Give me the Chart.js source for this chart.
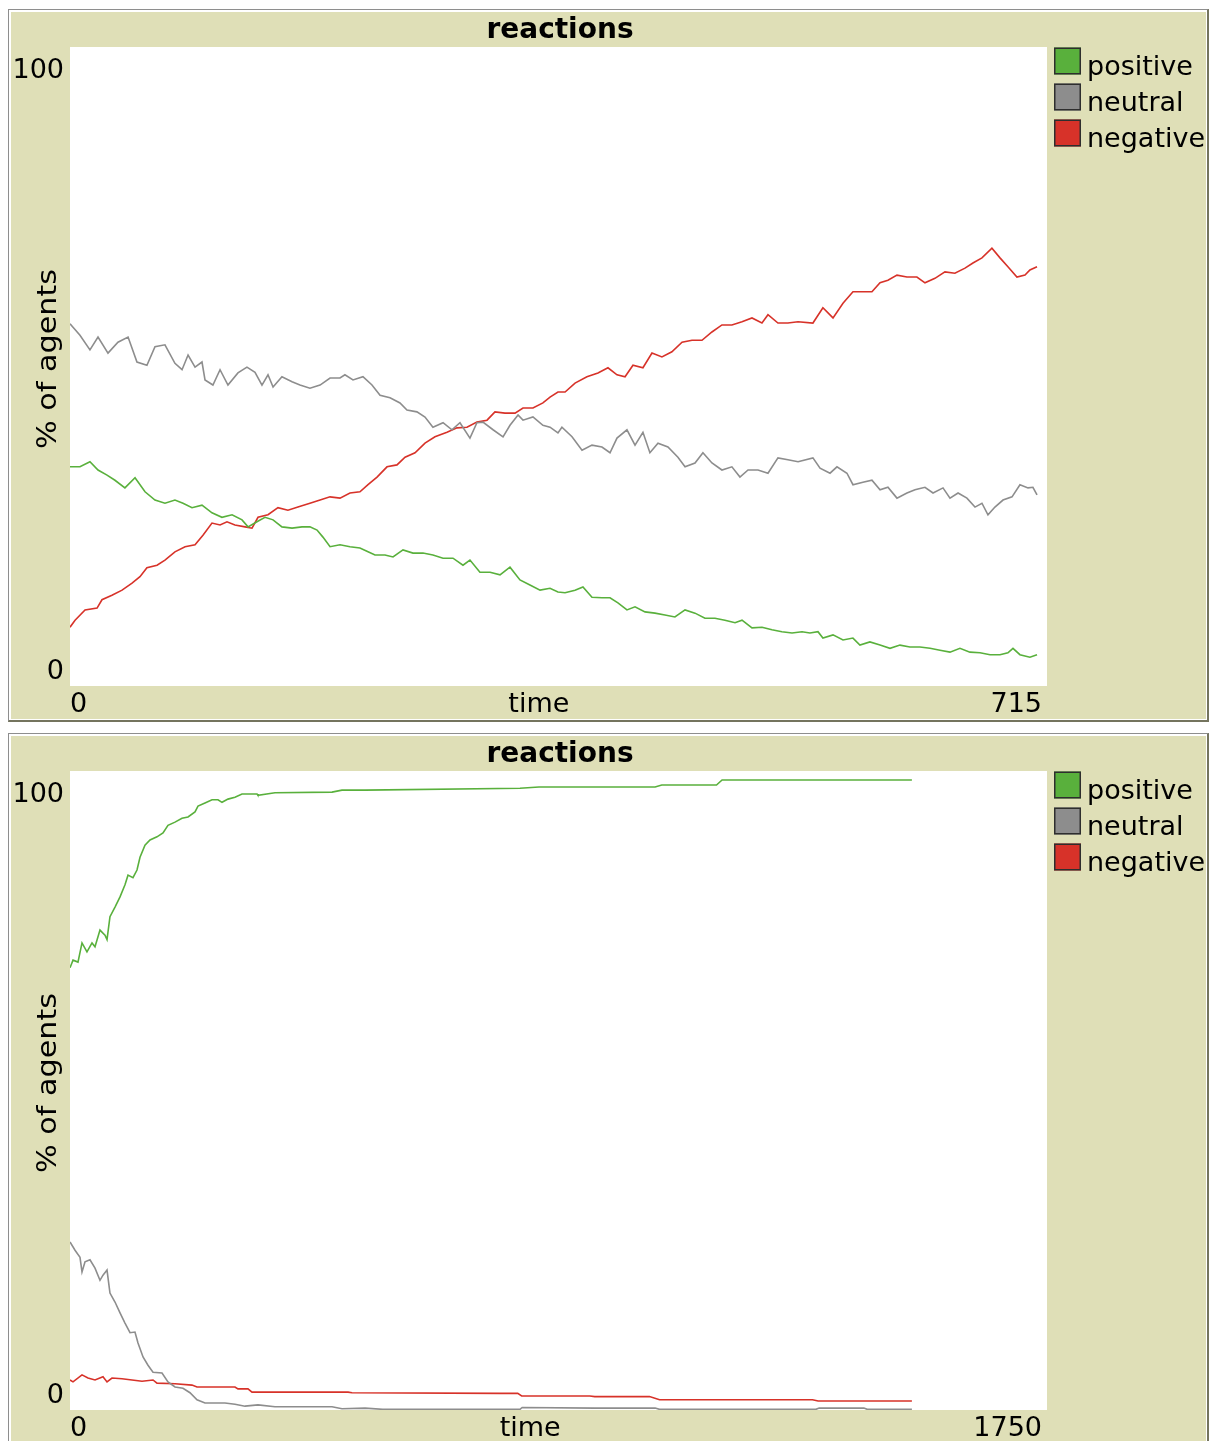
<!DOCTYPE html>
<html>
<head>
<meta charset="utf-8">
<script src="https://cdn.jsdelivr.net/npm/chart.js@4.4.1/dist/chart.umd.min.js"></script>
<style>
  html, body { margin:0; padding:0; background:#fff; width:1217px; height:1441px; overflow:hidden; }
  .frame { position:absolute; left:8px; width:1198px; height:710px; background:#fff;
           border-left:1px solid #8e8e8e; border-top:1px solid #8e8e8e;
           border-right:2px solid #74745e; border-bottom:2px solid #74745e; }
  .frame canvas { position:absolute; left:2px; top:2px; background:rgb(223,223,183); }
</style>
</head>
<body>
<div class="frame" style="top:9px"><canvas id="c1" width="1195" height="707"></canvas></div>
<div class="frame" style="top:733px"><canvas id="c2" width="1195" height="707"></canvas></div>
<script>
// ---------- shared labels ----------
const chartTitle = "reactions";
const xAxisTitle = "time";
const yAxisTitle = "% of agents";
const seriesNames = ["positive", "neutral", "negative"];
const seriesColors = ["rgb(89,176,60)", "rgb(141,141,141)", "rgb(215,50,41)"];
const yTicks = ["0", "100"];

// ---------- chart 1 (time 0..715) ----------
const xTicks1 = ["0", "715"];
const pos1T = [0,7.3,14.6,20.5,27.1,32.9,40.2,47.6,54.9,62.2,69.5,76.8,82.7,89.3,96.6,103.9,111.2,118.6,125.9,130.3,136.8,142.7,148.6,155.1,162.5,169.8,175.6,180.8,185.1,190.3,197.6,204.9,212.2,218.1,223.2,230.5,236.4,243.7,251.0,258.3,265.6,273.0,280.3,287.6,292.7,300.0,307.4,314.7,322.0,329.3,336.6,344.0,351.3,357.1,362.3,369.6,375.4,382.0,389.3,395.2,401.0,407.6,413.5,420.8,428.1,435.4,442.7,450.1,457.4,464.7,472.0,479.3,486.7,491.8,499.1,506.4,513.7,521.0,528.4,535.7,541.5,547.4,551.0,558.4,565.7,573.0,578.1,585.4,592.8,600.1,607.4,614.7,622.0,629.4,636.7,644.0,651.3,658.6,666.0,673.3,680.6,686.4,690.1,695.2,702.5,707.7];
const pos1V = [34.3,34.3,35.1,33.8,33.0,32.2,31.0,32.6,30.4,29.1,28.6,29.1,28.6,27.9,28.3,27.1,26.4,26.8,26.0,24.9,25.7,26.4,26.0,24.9,24.7,24.9,24.9,24.4,23.3,21.8,22.1,21.8,21.6,21.0,20.5,20.5,20.2,21.3,20.8,20.8,20.5,20.0,20.0,18.9,19.7,17.8,17.8,17.4,18.6,16.6,15.8,15.0,15.3,14.7,14.6,15.0,15.5,13.9,13.8,13.8,13.0,11.9,12.4,11.6,11.4,11.1,10.8,11.9,11.4,10.6,10.6,10.3,9.9,10.3,9.1,9.2,8.8,8.5,8.3,8.5,8.3,8.5,7.5,8.0,7.2,7.5,6.4,6.9,6.4,5.9,6.4,6.1,6.1,5.9,5.6,5.3,5.9,5.3,5.2,4.9,4.9,5.2,5.9,4.9,4.5,4.9];
const neu1T = [0,7.3,14.6,20.5,27.8,35.1,42.5,49.0,56.3,62.2,69.5,76.8,82.0,86.4,91.5,96.6,98.8,104.6,109.8,115.6,122.9,129.5,135.4,140.5,144.9,148.6,155.1,162.5,168.3,175.6,183.0,190.3,197.6,201.2,207.1,214.4,221.0,226.9,234.2,241.5,246.6,253.9,259.8,265.6,273.0,279.5,285.4,292.7,297.8,302.2,309.6,316.9,322.0,327.9,331.5,338.8,346.1,351.3,357.1,360.0,367.4,374.7,382.0,389.3,395.2,400.3,407.6,413.5,419.3,424.4,430.3,437.6,444.9,450.1,457.4,463.2,469.8,477.1,484.4,490.3,496.2,503.5,510.8,518.1,525.4,532.8,543.7,548.9,556.2,561.3,568.6,573.0,580.3,586.9,592.8,598.6,605.2,612.5,618.4,625.7,631.6,638.9,644.0,649.9,656.4,662.3,667.4,671.8,676.9,682.8,689.4,695.2,701.1,704.7,707.7];
const neu1V = [56.7,54.9,52.6,54.6,52.1,53.8,54.6,50.7,50.2,53.1,53.4,50.5,49.5,51.8,49.9,50.7,47.9,47.1,49.5,47.1,49.0,49.9,49.1,47.1,48.7,46.8,48.4,47.6,47.1,46.6,47.1,48.2,48.2,48.7,47.9,48.4,47.1,45.5,45.1,44.3,43.2,42.9,42.1,40.5,41.2,40.1,41.2,38.8,41.2,41.3,40.1,39.0,40.8,42.4,41.6,42.1,40.8,40.5,39.6,40.5,39.0,36.9,37.7,37.4,36.5,38.8,40.1,37.7,39.7,36.5,38.0,37.4,35.8,34.3,34.9,36.5,34.9,33.8,34.3,32.7,33.8,33.8,33.3,35.7,35.4,35.1,35.7,34.1,33.3,34.3,33.3,31.5,31.9,32.2,30.7,31.1,29.4,30.2,30.7,31.1,30.2,31.0,29.4,30.2,29.4,28.0,28.6,26.8,28.0,29.1,29.6,31.5,31.0,31.1,29.9];
const neg1T = [0,3.7,11.0,19.8,23.4,30.7,38.1,45.4,51.2,56.3,63.7,69.5,76.8,84.2,91.5,97.3,103.9,109.8,114.9,120.7,128.1,133.2,137.6,144.9,152.2,159.5,166.8,175.6,183.0,190.3,197.6,204.9,212.2,218.1,224.7,232.0,239.3,245.2,252.5,259.8,267.1,275.9,283.2,290.5,297.8,305.2,311.0,318.3,325.7,331.5,338.8,346.1,351.3,357.1,362.3,369.6,378.3,386.4,393.7,400.3,406.2,412.0,419.3,425.9,433.2,440.5,447.9,455.2,462.5,469.8,477.1,484.4,491.8,499.1,506.4,510.8,518.1,525.4,532.8,543.7,551.0,558.4,565.7,573.0,580.3,586.9,592.8,598.6,605.2,612.5,619.8,625.7,633.0,640.3,647.6,655.0,660.8,667.4,674.7,680.6,686.4,693.0,698.9,702.5,707.7];
const neg1V = [9.2,10.3,11.9,12.2,13.5,14.2,15.0,16.1,17.1,18.5,18.9,19.7,21.0,21.8,22.1,23.6,25.5,25.2,25.7,25.2,24.9,24.7,26.4,26.8,27.9,27.5,28.0,28.6,29.1,29.6,29.4,30.2,30.4,31.5,32.7,34.3,34.6,35.8,36.5,38.0,39.0,39.7,40.4,40.5,41.3,41.6,42.9,42.7,42.7,43.5,43.5,44.3,45.2,46.0,46.0,47.4,48.4,49.0,49.8,48.7,48.4,50.2,49.8,52.1,51.5,52.3,53.8,54.1,54.1,55.4,56.5,56.5,57.0,57.6,56.8,58.1,56.8,56.8,57.0,56.8,59.2,57.6,59.9,61.7,61.7,61.7,63.1,63.5,64.3,64.0,64.0,63.1,63.8,64.8,64.6,65.4,66.2,67.0,68.5,67.0,65.6,64.0,64.3,65.1,65.6];

// ---------- chart 2 (time 0..1750) ----------
const xTicks2 = ["0", "1750"];
const pos2T = [0,5.4,14.3,21.5,30.4,39.4,44.8,53.7,62.7,66.3,71.6,80.6,89.6,98.5,103.9,112.8,120.0,125.4,134.3,143.3,155.8,166.6,175.5,188.1,200.6,211.4,223.9,229.3,241.8,254.4,265.1,272.3,283.0,295.5,308.1,335.0,336.7,367.2,469.3,487.2,528.4,806,840,1048,1060,1158,1168,1508];
const pos2V = [69.2,70.4,70.1,73.1,71.7,73.1,72.5,75.1,74.3,73.6,77.2,78.7,80.3,82.2,83.7,83.3,84.5,86.5,88.4,89.2,89.7,90.3,91.5,92.0,92.6,92.8,93.6,94.5,95.0,95.5,95.5,95.1,95.6,95.9,96.4,96.4,96.2,96.6,96.7,97.0,97.0,97.3,97.5,97.5,97.8,97.8,98.6,98.6];
const neu2T = [0,9.0,17.9,21.5,26.9,35.8,44.8,53.7,59.1,66.3,71.6,80.6,89.6,98.5,107.5,116.4,121.8,130.8,139.7,148.7,164.8,175.5,188.1,202.4,214.9,227.5,241.8,259.7,277.6,295.5,313.5,336.7,367.2,469.3,487.2,528.4,560,806,810,940,1048,1056,1336,1342,1422,1428,1508];
const neu2V = [26.3,25.0,23.9,21.6,23.2,23.5,22.2,20.3,21.1,21.9,18.3,16.9,15.2,13.6,12.1,12.2,10.5,8.3,7.0,5.9,5.8,4.4,3.6,3.4,2.7,1.6,1.1,1.1,1.1,0.9,0.6,0.8,0.5,0.5,0.2,0.3,0.1,0.1,0.4,0.3,0.3,0.1,0.1,0.3,0.3,0.1,0.1];
const neg2T = [0,5.4,21.5,32.2,44.8,59.1,66.3,75.2,93.1,129.0,148.7,155.8,188.1,218.5,227.5,295.5,300.9,318.8,326.0,498.0,505.1,770,802,809,931,940,1038,1056,1330,1340,1508];
const neg2V = [4.7,4.4,5.5,5.0,4.7,5.2,4.4,5.0,4.9,4.5,4.7,4.2,4.1,3.9,3.6,3.6,3.3,3.3,2.8,2.8,2.7,2.6,2.6,2.2,2.2,2.1,2.1,1.6,1.6,1.4,1.4];

// ---------- drawing ----------
const FONT = '"DejaVu Sans", "Liberation Sans", sans-serif';

const netlogoPlugin = {
  id: 'netlogo',
  beforeDatasetsDraw(chart) {
    const a = chart.chartArea, ctx = chart.ctx;
    ctx.save();
    ctx.fillStyle = '#ffffff';
    ctx.fillRect(a.left, a.top, a.right - a.left, a.bottom - a.top);
    ctx.restore();
  },
  afterDraw(chart, args, o) {
    const a = chart.chartArea, ctx = chart.ctx;
    ctx.save();
    ctx.fillStyle = '#000';
    ctx.textBaseline = 'alphabetic';
    // title
    ctx.font = 'bold 28px ' + FONT;
    ctx.textAlign = 'center';
    ctx.fillText(o.title, (a.left + a.right) / 2 + 1.5, a.top - 9);
    // y ticks
    ctx.font = '27px ' + FONT;
    ctx.textAlign = 'right';
    ctx.fillText(o.yTicks[1], a.left - 6, a.top + 31);
    ctx.fillText(o.yTicks[0], a.left - 6, a.bottom - 7);
    // x ticks
    const xb = a.bottom + 26;
    ctx.textAlign = 'left';
    ctx.fillText(o.xTicks[0], a.left, xb);
    ctx.textAlign = 'right';
    ctx.fillText(o.xTicks[1], a.right - 5, xb);
    const w0 = ctx.measureText(o.xTicks[0]).width;
    const w1 = ctx.measureText(o.xTicks[1]).width;
    ctx.textAlign = 'center';
    ctx.fillText(o.xTitle, (a.left + w0 + a.right - 5 - w1) / 2, xb);
    // y title (slightly wider letterforms in the original)
    ctx.save();
    const wy = ctx.measureText(o.yTitle).width;
    ctx.translate(a.left - 21, a.top + 312);
    ctx.rotate(-Math.PI / 2);
    ctx.scale(180 / wy, 1);
    ctx.textBaseline = 'middle';
    ctx.textAlign = 'center';
    ctx.fillText(o.yTitle, 0, 0);
    ctx.restore();
    // legend
    ctx.textAlign = 'left';
    chart.data.datasets.forEach((ds, i) => {
      const x = a.right + 7, y = a.top + 0.5 + i * 36;
      ctx.fillStyle = ds.borderColor;
      ctx.fillRect(x, y, 27, 27);
      ctx.strokeStyle = '#2e2e2e';
      ctx.lineWidth = 1.5;
      ctx.strokeRect(x + 0.75, y + 0.75, 25.5, 25.5);
      ctx.fillStyle = '#000';
      ctx.fillText(ds.label, a.right + 40, y + 27);
    });
    ctx.restore();
  }
};

function pts(t, v) { return t.map((x, i) => ({ x: x, y: v[i] })); }

function makeChart(id, xMax, xTicks, series) {
  return new Chart(document.getElementById(id), {
    type: 'line',
    data: {
      datasets: series.map((s, i) => ({
        label: seriesNames[i],
        data: pts(s[0], s[1]),
        borderColor: seriesColors[i],
        backgroundColor: seriesColors[i],
        borderWidth: 1.6,
        pointRadius: 0,
        tension: 0,
        fill: false
      }))
    },
    options: {
      responsive: false,
      animation: false,
      devicePixelRatio: 1,
      layout: { padding: { left: 59, top: 35, right: 159, bottom: 33 } },
      scales: {
        x: { type: 'linear', min: 0, max: xMax, display: false },
        y: { type: 'linear', min: 0, max: 100, display: false }
      },
      plugins: {
        legend: { display: false },
        title: { display: false },
        tooltip: { enabled: false },
        netlogo: { title: chartTitle, xTitle: xAxisTitle, yTitle: yAxisTitle, xTicks: xTicks, yTicks: yTicks }
      }
    },
    plugins: [netlogoPlugin]
  });
}

makeChart('c1', Number(xTicks1[1]), xTicks1, [[pos1T, pos1V], [neu1T, neu1V], [neg1T, neg1V]]);
makeChart('c2', Number(xTicks2[1]), xTicks2, [[pos2T, pos2V], [neu2T, neu2V], [neg2T, neg2V]]);
</script>
</body>
</html>
